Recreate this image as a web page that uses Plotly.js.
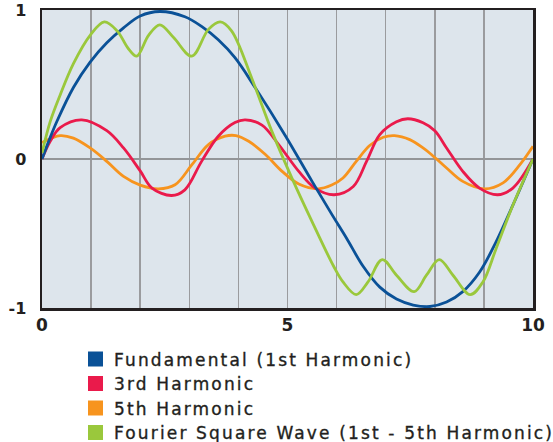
<!DOCTYPE html>
<html>
<head>
<meta charset="utf-8">
<script src="https://cdn.plot.ly/plotly-3.0.1.min.js"></script>
<style>
html,body{margin:0;padding:0;background:#fff;}
#chart{width:553px;height:442px;}
svg .annotation-text{letter-spacing:2.15px;stroke:#231f20;stroke-width:0.35px;}
</style>
</head>
<body>
<div id="chart"></div>
<script>
// Series names and colours
const seriesNames = ["Fundamental (1st Harmonic)", "3rd Harmonic", "5th Harmonic", "Fourier Square Wave (1st - 5th Harmonic)"];
const seriesColors = ["#0a5197", "#ea1a4b", "#f7941e", "#9ac83c"];

// Fundamental
const fundX = [0, 0.15, 0.3, 0.64, 0.98, 1.32, 1.66, 2.0, 2.4, 2.91, 3.25, 3.59, 3.93, 4.34, 4.95, 5.5, 5.9, 6.2, 6.54, 6.88, 7.22, 7.56, 7.9, 8.24, 8.57, 8.91, 9.25, 9.59, 10];
const fundY = [0, 0.13, 0.25, 0.48, 0.65, 0.78, 0.88, 0.96, 0.99, 0.955, 0.89, 0.80, 0.68, 0.48, 0.16, -0.15, -0.37, -0.53, -0.72, -0.86, -0.94, -0.98, -0.99, -0.96, -0.89, -0.76, -0.555, -0.31, 0];

// 3rd harmonic
const h3X = [0, 0.17, 0.37, 0.81, 1.32, 1.66, 2.0, 2.24, 2.64, 2.91, 3.25, 3.59, 3.93, 4.14, 4.48, 4.82, 5.23, 5.56, 5.95, 6.34, 6.61, 6.88, 7.22, 7.45, 7.76, 8.0, 8.24, 8.57, 8.91, 9.28, 9.59, 10];
const h3Y = [0, 0.12, 0.21, 0.263, 0.19, 0.074, -0.08, -0.195, -0.245, -0.207, -0.016, 0.153, 0.245, 0.263, 0.227, 0.097, -0.083, -0.195, -0.24, -0.184, -0.016, 0.164, 0.25, 0.27, 0.243, 0.19, 0.074, -0.083, -0.195, -0.24, -0.195, 0];

// 5th harmonic
const h5X = [0, 0.37, 0.64, 0.98, 1.32, 1.66, 2.0, 2.37, 2.71, 3.05, 3.39, 3.73, 3.95, 4.21, 4.55, 4.89, 5.23, 5.63, 5.9, 6.13, 6.40, 6.68, 6.95, 7.18, 7.49, 7.76, 7.93, 8.24, 8.57, 9.01, 9.39, 9.73, 10];
const h5Y = [0.11, 0.157, 0.14, 0.074, -0.016, -0.117, -0.175, -0.20, -0.173, -0.04, 0.097, 0.153, 0.157, 0.119, 0.03, -0.083, -0.168, -0.20, -0.175, -0.128, -0.016, 0.092, 0.146, 0.157, 0.13, 0.074, 0.03, -0.06, -0.15, -0.20, -0.16, -0.04, 0.085];

// Fourier square wave (1st - 5th)
const sqX = [0, 0.17, 0.37, 0.64, 0.98, 1.27, 1.53, 1.76, 1.93, 2.17, 2.4, 2.68, 3.05, 3.39, 3.63, 3.86, 4.28, 4.68, 5.09, 5.5, 5.94, 6.13, 6.4, 6.64, 6.93, 7.22, 7.58, 7.83, 8.09, 8.37, 8.72, 8.98, 9.25, 9.59, 10];
const sqY = [0.04, 0.254, 0.43, 0.64, 0.83, 0.92, 0.86, 0.74, 0.69, 0.83, 0.90, 0.815, 0.69, 0.87, 0.92, 0.86, 0.535, 0.187, -0.128, -0.42, -0.72, -0.825, -0.91, -0.825, -0.675, -0.78, -0.89, -0.78, -0.675, -0.78, -0.91, -0.825, -0.60, -0.31, 0];

// Axis ticks
const xTickVals = [0, 1, 2, 3, 4, 5, 6, 7, 8, 9, 10];
const xTickText = ["0", "", "", "", "", "5", "", "", "", "", "10"];
const yTickVals = [-1, 0, 1];
const yTickText = ["-1", "0", "1"];

const xs = [fundX, h3X, h5X, sqX];
const ys = [fundY, h3Y, h5Y, sqY];
const drawOrder = [2, 1, 0, 3];

const traces = drawOrder.map(i => ({
  x: xs[i], y: ys[i], type: 'scatter', mode: 'lines',
  line: {color: seriesColors[i], width: 2.8, shape: 'spline', smoothing: 1},
  showlegend: false, hoverinfo: 'skip', name: seriesNames[i]
}));

// Manual legend (squares + text) placed below the plot, in pixel terms converted to paper
const W = 553, H = 442, ML = 42, MR = 20, MT = 10, MB = 134;
const pw = W - ML - MR, ph = H - MT - MB;
const px2x = p => (p - ML) / pw;
const px2y = p => (H - MB - p) / ph;
const legendRowY = [359, 383.5, 408, 432.5];
const shapes = [], annotations = [];
seriesNames.forEach((n, i) => {
  const cy = legendRowY[i];
  shapes.push({type: 'rect', xref: 'paper', yref: 'paper',
    x0: px2x(88), x1: px2x(103), y0: px2y(cy + 7.5), y1: px2y(cy - 7.5),
    fillcolor: seriesColors[i], line: {width: 0}, layer: 'above'});
  annotations.push({xref: 'paper', yref: 'paper', x: px2x(112), y: px2y(cy + 0.5),
    xanchor: 'left', yanchor: 'middle', showarrow: false, text: n, align: 'left',
    font: {family: 'DejaVu Sans', size: 17, color: '#231f20'}});
});

const layout = {
  width: W, height: H,
  margin: {l: ML, r: MR, t: MT, b: MB},
  paper_bgcolor: '#ffffff',
  plot_bgcolor: '#dde5ec',
  showlegend: false,
  shapes: shapes,
  annotations: annotations,
  xaxis: {
    range: [0, 10], tickmode: 'array', tickvals: xTickVals, ticktext: xTickText,
    showgrid: true, gridcolor: '#9a9b9e', gridwidth: 1.5,
    zeroline: false, showline: true, linecolor: '#231f20', linewidth: 2.5, mirror: true,
    ticks: '', tickfont: {family: 'DejaVu Sans', size: 17, color: '#231f20', weight: 'bold'},
    fixedrange: true
  },
  yaxis: {
    range: [-1, 1], tickmode: 'array', tickvals: yTickVals, ticktext: yTickText,
    showgrid: false, zeroline: true, zerolinecolor: '#939598', zerolinewidth: 2.5,
    showline: true, linecolor: '#231f20', linewidth: 2.5, mirror: true,
    ticks: '', ticklabelstandoff: 10,
    tickfont: {family: 'DejaVu Sans', size: 16, color: '#231f20', weight: 'bold'},
    fixedrange: true
  }
};

Plotly.newPlot('chart', traces, layout, {staticPlot: true, displayModeBar: false});
</script>
</body>
</html>
